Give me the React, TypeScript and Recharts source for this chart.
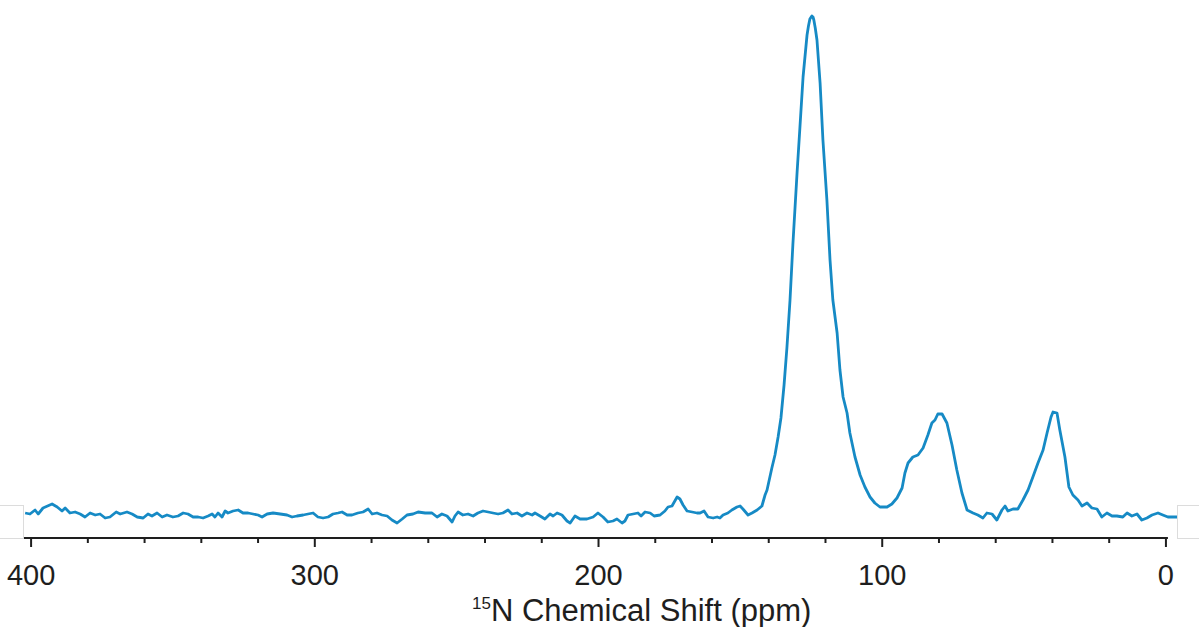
import { LineChart, Line, XAxis, YAxis, ReferenceLine } from "recharts";

// 15N CP spectrum (ppm, arbitrary intensity)
const shift = [
  402.1, 400.4, 398.6, 397.5, 395.8, 392.6, 390.8, 389.1, 388.0, 386.3, 384.5, 382.7, 381.0, 379.2, 377.4,
  375.7, 373.9, 372.2, 370.0, 368.6, 366.2, 364.4, 362.6, 360.5, 358.8, 357.4, 355.6, 353.8, 352.1, 350.0,
  348.2, 346.4, 344.7, 342.9, 341.1, 339.4, 337.6, 336.2, 335.2, 334.1, 332.7, 331.6, 330.6, 328.8, 327.0,
  325.3, 323.5, 321.8, 320.0, 318.6, 316.8, 314.7, 312.2, 309.8, 308.0, 306.3, 304.1, 302.4, 300.6, 298.9,
  297.1, 295.3, 293.6, 291.8, 290.4, 288.6, 286.9, 284.8, 283.0, 281.2, 279.8, 278.1, 276.3, 274.5, 272.8,
  271.0, 269.2, 267.5, 265.4, 263.6, 261.1, 258.7, 256.9, 255.2, 253.4, 251.6, 250.6, 249.5, 247.8, 246.0,
  244.2, 242.5, 240.7, 238.9, 237.2, 235.4, 233.7, 231.9, 230.5, 228.7, 227.0, 225.2, 223.4, 222.4, 220.6,
  218.9, 217.1, 216.0, 214.6, 212.9, 211.1, 210.0, 208.3, 206.5, 204.1, 201.9, 200.2, 198.4, 196.7, 194.9,
  193.5, 191.7, 190.7, 189.6, 187.8, 186.1, 185.0, 183.6, 181.8, 180.4, 178.3, 176.6, 175.5, 174.1, 172.3,
  171.3, 170.2, 168.8, 167.0, 165.3, 164.2, 162.8, 161.4, 159.6, 158.2, 157.2, 156.1, 154.4, 153.0, 151.2,
  150.1, 149.1, 147.3, 145.9, 144.1, 142.4, 141.3, 140.6, 138.9, 137.8, 136.7, 135.7, 134.6, 133.6, 132.5,
  131.5, 130.0, 129.0, 127.9, 126.5, 126.0, 125.5, 124.8, 124.4, 124.1, 123.6, 123.0, 121.9, 120.9, 119.5,
  118.4, 117.4, 115.9, 114.9, 113.8, 112.4, 111.4, 109.6, 107.8, 106.1, 104.3, 102.6, 100.8, 98.3, 96.6,
  94.8, 93.0, 92.0, 90.9, 89.2, 87.4, 85.6, 83.9, 82.5, 81.4, 80.4, 78.9, 77.2, 75.4, 73.7,
  71.9, 70.1, 68.0, 66.3, 64.5, 63.1, 61.3, 59.6, 57.8, 56.7, 55.7, 53.9, 52.2, 50.4, 48.6,
  46.9, 45.1, 43.3, 41.9, 40.5, 39.8, 38.4, 37.4, 35.6, 34.2, 32.8, 31.0, 29.6, 27.8, 26.1,
  24.3, 22.6, 20.8, 19.0, 17.3, 15.2, 13.7, 12.0, 10.2, 8.5, 6.7, 4.9, 2.8, 1.1, -0.7,
  -3.9,
];

const intensity = [
  25, 24, 28, 24, 30, 34, 31, 27, 30, 25, 26, 24, 21, 25, 23,
  24, 20, 21, 26, 24, 26, 24, 21, 20, 24, 22, 25, 21, 23, 21,
  22, 25, 24, 21, 21, 20, 22, 24, 21, 25, 21, 27, 25, 27, 28,
  25, 25, 24, 23, 21, 24, 25, 24, 23, 21, 22, 23, 24, 25, 21,
  20, 21, 24, 25, 26, 23, 23, 25, 26, 29, 24, 25, 23, 22, 18,
  15, 19, 23, 24, 26, 25, 25, 21, 24, 22, 16, 22, 26, 23, 24,
  22, 25, 27, 26, 25, 24, 25, 28, 24, 25, 22, 25, 23, 25, 22,
  19, 24, 22, 25, 23, 17, 15, 22, 19, 19, 21, 25, 21, 16, 17,
  19, 15, 17, 23, 24, 25, 22, 26, 25, 22, 23, 27, 31, 32, 41,
  39, 33, 27, 26, 25, 25, 27, 21, 20, 21, 20, 23, 25, 28, 31,
  32, 29, 23, 25, 28, 32, 43, 48, 70, 83, 101, 120, 153, 190, 238,
  293, 366, 411, 461, 503, 512, 519, 522, 521, 518, 510, 498, 455, 398, 338,
  278, 238, 205, 168, 141, 125, 105, 81, 63, 51, 41, 35, 31, 31, 34,
  40, 50, 65, 75, 81, 83, 90, 103, 115, 118, 124, 124, 115, 93, 68,
  45, 28, 25, 23, 20, 25, 24, 18, 28, 32, 27, 29, 29, 38, 48,
  61, 75, 88, 105, 121, 126, 125, 108, 81, 51, 43, 38, 32, 35, 30,
  29, 21, 25, 22, 22, 21, 25, 22, 24, 18, 20, 23, 25, 23, 21,
  21,
];

const majorTicks = [400, 300, 200, 100, 0];
const allTicks = [400, 380, 360, 340, 320, 300, 280, 260, 240, 220, 200, 180, 160, 140, 120, 100, 80, 60, 40, 20, 0];

const data = shift.map((ppm, i) => ({ ppm, value: intensity[i] }));

const FONT = "'Liberation Sans', Arial, Helvetica, sans-serif";
const INK = "#1e1e1e";

function PpmTick(props: any) {
  const { x, y, payload } = props;
  const major = majorTicks.includes(payload.value);
  return (
    <g>
      <line x1={x} x2={x} y1={y} y2={y + (major ? 9 : 5)} stroke={INK} strokeWidth={2} />
      {major && (
        <text x={x} y={y + 26} dy="0.71em" textAnchor="middle" fontSize={29} fontFamily={FONT} fill={INK}>
          {payload.value}
        </text>
      )}
    </g>
  );
}

function AxisTitle() {
  return (
    <text x={472} y={621} fontFamily={FONT} fill={INK}>
      <tspan fontSize={17} dy={-12}>15</tspan>
      <tspan fontSize={31} dy={12}>N Chemical Shift (ppm)</tspan>
    </text>
  );
}

const box = { position: "absolute" as const, top: 505, height: 32, border: "1px solid #dcdcdc" };

export default function App() {
  return (
    <div style={{ position: "absolute", left: 0, top: 0, width: 1199, height: 627, background: "#fff" }}>
      <div style={{ ...box, left: -2, width: 25, borderLeft: "none" }} />
      <div style={{ ...box, left: 1177, width: 24, borderRight: "none" }} />
      <LineChart width={1199} height={627} data={data} margin={{ top: 13, right: 22, bottom: 0, left: 24 }}>
        <XAxis
          dataKey="ppm"
          type="number"
          domain={[-3.9, 402.5]}
          reversed
          allowDataOverflow
          ticks={allTicks}
          interval={0}
          tick={<PpmTick />}
          tickLine={false}
          tickSize={0}
          tickMargin={0}
          axisLine={false}
          height={89}
          label={<AxisTitle />}
        />
        <YAxis hide type="number" domain={[0, 525]} allowDataOverflow />
        <ReferenceLine
          segment={[
            { x: 402.5, y: 0 },
            { x: -0.7, y: 0 },
          ]}
          stroke={INK}
          strokeWidth={2}
        />
        <Line
          type="linear"
          dataKey="value"
          stroke="#168ac5"
          strokeWidth={2.8}
          strokeLinejoin="round"
          dot={false}
          isAnimationActive={false}
        />
      </LineChart>
    </div>
  );
}
